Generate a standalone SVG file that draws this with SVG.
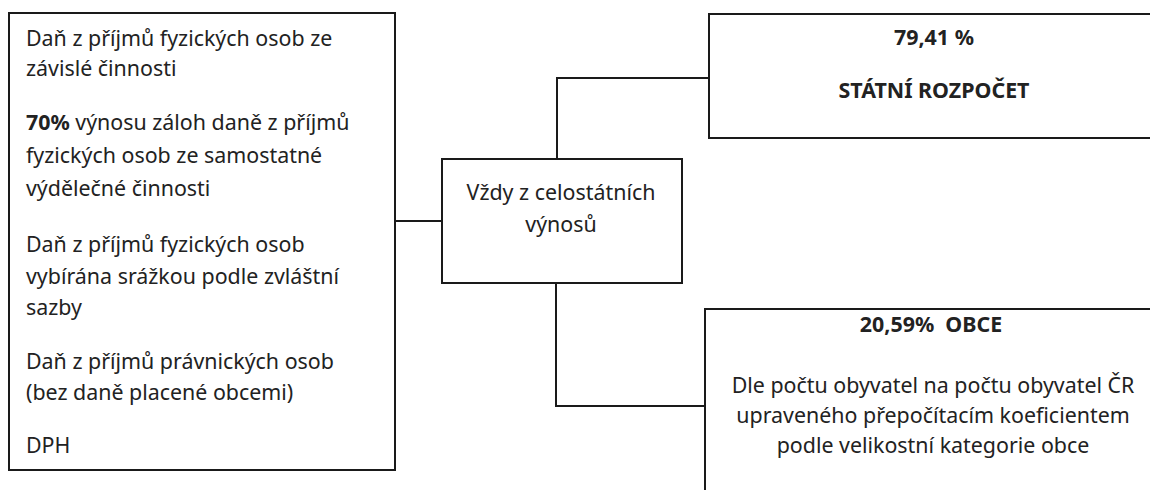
<svg xmlns="http://www.w3.org/2000/svg" width="1150" height="490" viewBox="0 0 1150 490">
<style>
.box{fill:#fff;stroke:#1a1a1a;stroke-width:2}
.ln{fill:none;stroke:#1a1a1a;stroke-width:2}
text{font-family:"Noto Sans","Open Sans",sans-serif;font-size:21.4px;fill:#222}
.c{text-anchor:middle}
.b{font-weight:bold}
</style>
<rect width="1150" height="490" fill="#fff"/>
<g id="connectors">
<path class="ln" d="M395,221 H442"/>
<path class="ln" d="M557,159 V78 H709"/>
<path class="ln" d="M556,283 V406 H705"/>
</g>
<g id="left">
<rect class="box" x="9" y="13" width="386" height="457"/>
<text x="26" y="46">Daň z příjmů fyzických osob ze</text>
<text x="26" y="76">závislé činnosti</text>
<text x="26" y="130"><tspan class="b">70%</tspan> výnosu záloh daně z příjmů</text>
<text x="26" y="163">fyzických osob ze samostatné</text>
<text x="26" y="196">výdělečné činnosti</text>
<text x="26" y="252">Daň z příjmů fyzických osob</text>
<text x="26" y="284">vybírána srážkou podle zvláštní</text>
<text x="26" y="315">sazby</text>
<text x="26" y="369">Daň z příjmů právnických osob</text>
<text x="26" y="400">(bez daně placené obcemi)</text>
<text x="26" y="453">DPH</text>
</g>
<g id="middle">
<rect class="box" x="442" y="159" width="240" height="124"/>
<text class="c" x="561" y="200">Vždy z celostátních</text>
<text class="c" x="561" y="232">výnosů</text>
</g>
<g id="statni">
<rect class="box" x="709" y="14" width="450" height="124"/>
<text class="c b" x="934" y="45">79,41 %</text>
<text class="c b" x="934" y="98">STÁTNÍ ROZPOČET</text>
</g>
<g id="obce">
<rect class="box" x="705" y="309" width="460" height="200"/>
<text class="c b" x="931" y="332" xml:space="preserve">20,59%  OBCE</text>
<text class="c" x="933" y="393">Dle počtu obyvatel na počtu obyvatel ČR</text>
<text class="c" x="933" y="423">upraveného přepočítacím koeficientem</text>
<text class="c" x="933" y="453">podle velikostní kategorie obce</text>
</g>
</svg>
